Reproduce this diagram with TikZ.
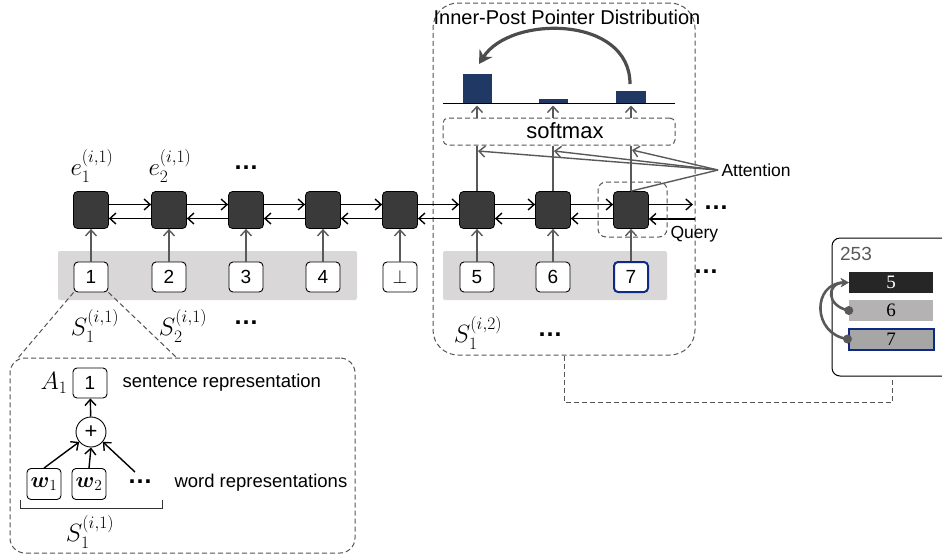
\documentclass[tikz,border=0pt]{standalone}
\usepackage{fix-cm}
\usepackage{amsmath}
\usepackage{fontspec}
\newfontfamily\arial{Liberation Sans}
\newfontfamily\tnr{Liberation Serif}
\usetikzlibrary{arrows.meta}
\definecolor{cellc}{HTML}{3A3A3A}
\definecolor{arrc}{HTML}{595959}
\definecolor{bgc}{HTML}{D9D7D7}
\definecolor{navy}{HTML}{1F3864}
\definecolor{boxblue}{HTML}{102A83}
\definecolor{dashc}{HTML}{555555}
\definecolor{pgray}{HTML}{B4B2B2}
\definecolor{pgray2}{HTML}{A6A6A6}
\tikzset{
 cell/.style={draw=black, line width=0.8pt, fill=cellc, rounded corners=4pt, minimum width=35pt, minimum height=37pt, inner sep=0pt},
 ibox/.style={draw=black, line width=0.9pt, fill=white, rounded corners=4pt, minimum width=34pt, minimum height=30pt, inner sep=0pt, font={\arial\fontsize{19}{22}\selectfont}},
 harr/.style={-{Straight Barb[length=6pt,width=11pt,line width=1.4pt]}, line width=1.4pt, black},
 garr/.style={-{Straight Barb[length=6pt,width=11pt,line width=1.4pt]}, line width=1.4pt, arrc},
 gl/.style={line width=1.4pt, arrc},
 dbox/.style={draw=dashc, line width=1pt, dash pattern=on 5pt off 3pt},
 lbl/.style={font={\arial\fontsize{18.5}{22}\selectfont}},
 mth/.style={font={\fontsize{25}{28}\selectfont}},
 dots/.style={font={\arial\bfseries\fontsize{25}{26}\selectfont}},
 parr/.style={line width=2.6pt, arrc, -{Stealth[length=8pt,width=9pt]}},
}
\begin{document}
\begin{tikzpicture}[x=1pt,y=-1pt]
\useasboundingbox (0,0) rectangle (942,558);
\begin{scope}
\clip (0,0) rectangle (942,558);
% gray backgrounds
\fill[bgc, rounded corners=2pt] (58,251) rectangle (357,300);
\fill[bgc, rounded corners=2pt] (443,251) rectangle (667,300);
% big dashed pointer region
\node[dbox, rounded corners=25pt, minimum width=262pt, minimum height=352pt] (ptr) at (564,179) {};
% cells and inputs
\foreach \i/\x/\t in {1/91/1,2/169/2,3/246/3,4/323/4,5/400/$\perp$,6/477/5,7/553/6} {
  \node[cell] (c\i) at (\x,210) {};
  \node[ibox] (b\i) at (\x,277) {\t};
}
\node[cell] (c8) at (631,210) {};
\node[ibox, draw=boxblue, line width=2pt] (b8) at (631,277) {7};
\foreach \i in {1,...,8} \draw[garr] (b\i) -- (c\i);
\foreach \i/\j in {1/2,2/3,3/4,4/5,5/6,6/7,7/8} {
  \draw[harr] ([yshift=5.5pt]c\i.east) -- ([yshift=5.5pt]c\j.west);
  \draw[harr] ([yshift=-8.5pt]c\j.west) -- ([yshift=-8.5pt]c\i.east);
}
\draw[harr] ([yshift=5.5pt]c8.east) -- ++(44,0);
\coordinate (rin) at (695,219);
\draw[harr] (rin) -- (rin -| c8.east);
% labels on the chain
\node[mth] (e1) at (92,166) {$e_1^{(i,1)}$};
\node[mth] (e2) at (170,166) {$e_2^{(i,1)}$};
\node[dots] (d1) at (246,168) {\ldots};
\node[dots] (d2) at (716,208) {\ldots};
\node[dots] (d3) at (706,272) {\ldots};
\node[mth] (s1) at (95,326) {$S_1^{(i,1)}$};
\node[mth] (s2) at (183,326) {$S_2^{(i,1)}$};
\node[dots] (d4) at (246,323) {\ldots};
\node[mth] (s3) at (478,333) {$S_1^{(i,2)}$};
\node[dots] (d5) at (550,335) {\ldots};
% softmax and distribution
\node[dbox, rounded corners=5pt, minimum width=232pt, minimum height=27pt] (sm) at (559,131.5) {};
\node[font={\arial\fontsize{22}{24}\selectfont}] (smt) at (565,131) {softmax};
\fill[navy] (463,74) rectangle (492,103);
\fill[navy] (539,99) rectangle (568,103);
\fill[navy] (616,91) rectangle (646,103);
\draw[line width=1.6pt] (443,103.5) -- (675,103.5);
\coordinate (base) at (0,105.5);
\foreach \i in {6,7,8} {
  \draw[gl] (c\i) -- (c\i |- sm.south);
  \draw[garr] (sm.north -| c\i) -- (base -| c\i);
}
\node[font={\arial\fontsize{20}{24}\selectfont}] (title) at (567,17) {Inner-Post Pointer Distribution};
\draw[line width=3.2pt, color=arrc!85!black, -{Stealth[length=13pt,width=15pt]}] (630,84) .. controls (630,15) and (510,15) .. (479,64);
% attention
\node[font={\arial\fontsize{17.5}{22}\selectfont}, anchor=west] (att) at (718,170) {Attention};
\coordinate (a6) at (478,151);
\coordinate (a7) at (554,151);
\coordinate (a8) at (632,150);
\draw[garr] (att.west) -- (a6);
\draw[garr] (att.west) -- (a7);
\draw[garr] (att.west) -- (a8);
\draw[gl] (att.west) -- (c8.north);
% query
\node[dbox, rounded corners=8pt, minimum width=69pt, minimum height=55pt] (q) at (632.5,209.5) {};
\node[font={\arial\fontsize{17.5}{22}\selectfont}, anchor=west] (qt) at (667,234) {Query};
% right panel (runs past the right edge)
\node[minimum width=120pt, minimum height=138pt, inner sep=0pt] (panel) at (892,307) {};
\draw[line width=1pt, rounded corners=8pt] (990,376) -| (832,238) -- (990,238);
\node[font={\arial\fontsize{19}{22}\selectfont}, text=arrc] (num) at (856,254) {253};
\node[fill=black!85, minimum width=84pt, minimum height=21pt, inner sep=0pt, text=white, font={\tnr\fontsize{19}{22}\selectfont}] (p5) at (891,282.5) {5};
\node[fill=pgray, minimum width=84pt, minimum height=21pt, inner sep=0pt, font={\tnr\fontsize{19}{22}\selectfont}] (p6) at (891,310.5) {6};
\node[fill=pgray2, draw=boxblue, line width=2pt, minimum width=85pt, minimum height=21pt, inner sep=0pt, font={\tnr\fontsize{19}{22}\selectfont}] (p7) at (891,339) {7};
\fill[arrc] (p6.west) circle (4.5pt);
\fill[arrc] (p7.west) circle (4.5pt);
\draw[parr] (p6.west) .. controls (826,306) and (826,283) .. (p5.west);
\draw[parr] (p7.west) .. controls (812,334) and (812,283) .. (p5.west);
\draw[dbox] (ptr.south) -- (ptr.south |- 0,402) -| (panel.south);
% zoom-in box
\node[dbox, rounded corners=15pt, minimum width=345pt, minimum height=195pt] (zoom) at (182.5,455.5) {};
\coordinate (zl) at (18,358);
\coordinate (zr) at (177,358);
\draw[dbox] (b1.south west) -- (zl);
\draw[dbox] (b1.south east) -- (zr);
\node[ibox] (a1) at (90,383) {1};
\node[mth, anchor=east] (A1) at (71,383) {$A_1$};
\node[lbl, anchor=west] (sr) at (119,383) {sentence representation};
\node[draw=black, line width=0.9pt, circle, minimum size=30pt, inner sep=0pt, font={\arial\fontsize{22}{24}\selectfont}] (plus) at (91,432) {+};
\draw[harr] (plus) -- (a1);
\node[ibox, minimum height=31pt] (w1) at (44,484) {\fontsize{22}{24}\selectfont$\boldsymbol{w}_1$};
\node[ibox, minimum height=31pt] (w2) at (89,484) {\fontsize{22}{24}\selectfont$\boldsymbol{w}_2$};
\node[dots] (d6) at (140,482) {\ldots};
\coordinate (w3) at (135,472);
\draw[harr] (w1.north) -- (plus.220);
\draw[harr] (w2.north) -- (plus.south);
\draw[harr] (w3) -- (plus.320);
\node[lbl, anchor=west] (wr) at (171,483) {word representations};
\draw[line width=1pt, black!80] (20,500) -- (20,508) -- (162,508) -- (162,500);
\node[mth] (s4) at (90,532) {$S_1^{(i,1)}$};
\end{scope}
\end{tikzpicture}
\end{document}
